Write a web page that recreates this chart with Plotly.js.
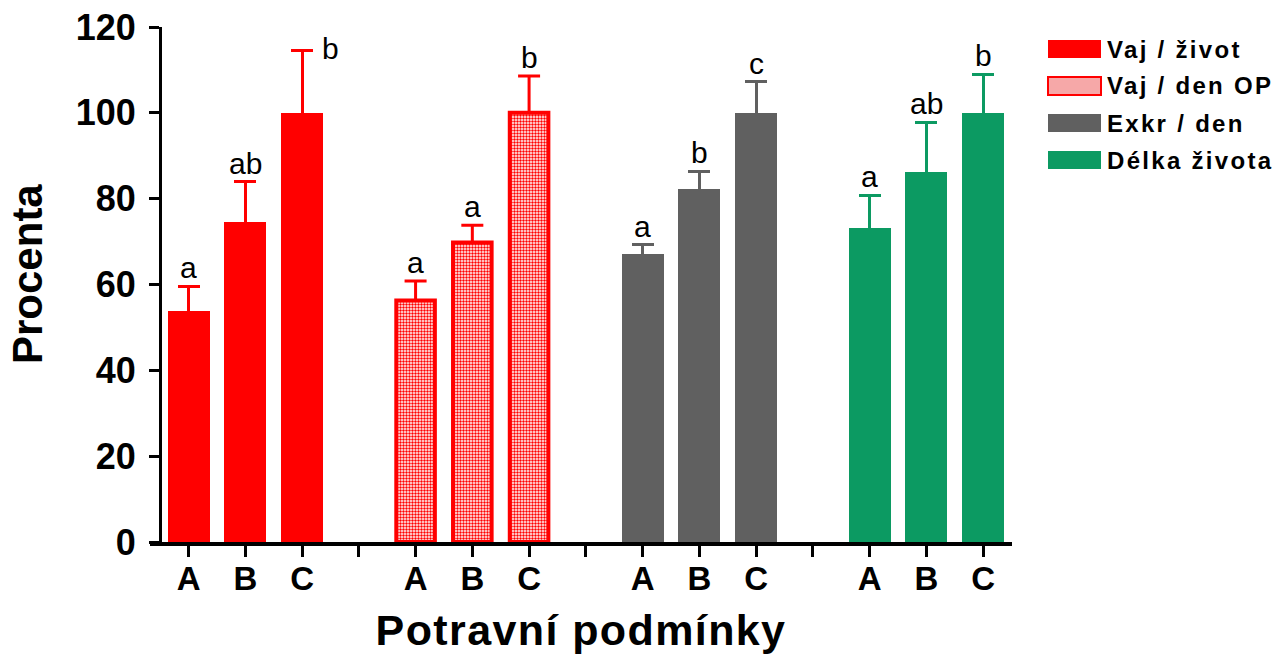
<!DOCTYPE html>
<html>
<head>
<meta charset="utf-8">
<script src="https://cdn.plot.ly/plotly-3.0.1.min.js"></script>
<style>
html,body{margin:0;padding:0;background:#fff;}
#chart{width:1281px;height:655px;}
</style>
</head>
<body>
<div id="chart"></div>
<script>
// ---- data ----
const categories = ['A', 'B', 'C'];
const seriesNames = ['Vaj / život', 'Vaj / den OP', 'Exkr / den', 'Délka života'];
const vajZivot      = [53.9, 74.6, 100];
const vajZivotErr   = [5.7, 9.3, 14.6];
const vajDenOP      = [56.3, 69.8, 100];
const vajDenOPErr   = [4.5, 4.0, 8.6];
const exkrDen       = [67.2, 82.3, 100];
const exkrDenErr    = [2.1, 4.1, 7.2];
const delkaZivota   = [73.2, 86.3, 100];
const delkaZivotaErr= [7.6, 11.5, 9.0];
const lettersVajZivot    = ['a', 'ab', 'b'];
const lettersVajDenOP    = ['a', 'a', 'b'];
const lettersExkrDen     = ['a', 'b', 'c'];
const lettersDelkaZivota = ['a', 'ab', 'b'];
const errMinus = [0, 0, 0];
const xTitle = 'Potravní podmínky';
const yTitle = 'Procenta';

// ---- styling ----
const FONT = "Arial, 'Liberation Sans', sans-serif";
const colors = ['#FF0000', '#FF0000', '#606060', '#0C9A62'];
const values = [vajZivot, vajDenOP, exkrDen, delkaZivota];
const errors = [vajZivotErr, vajDenOPErr, exkrDenErr, delkaZivotaErr];
const letters = [lettersVajZivot, lettersVajDenOP, lettersExkrDen, lettersDelkaZivota];
const slotsPerGroup = categories.length + 1;

const traces = [];
const annotations = [];
const shapes = [];
const tickvals = [];
const ticktext = [];

values.forEach((vals, s) => {
  const xs = categories.map((c, i) => s * slotsPerGroup + i);
  const patterned = (s === 1);
  traces.push({
    type: 'bar',
    name: seriesNames[s],
    x: xs,
    y: vals,
    width: patterned ? 0.68 : 0.74,
    marker: patterned ? {
      color: '#FF0000',
      pattern: {shape: '.', fillmode: 'replace', fgcolor: '#FF0000', bgcolor: '#FFFFFF', size: 3, solidity: 0.5},
      line: {color: '#FF0000', width: 4}
    } : {color: colors[s], line: {width: 0}},
    error_y: {
      type: 'data', symmetric: false, array: errors[s], arrayminus: errMinus,
      color: colors[s], thickness: 3, width: 11
    },
    showlegend: false,
    hoverinfo: 'skip'
  });
  xs.forEach((x, i) => {
    const top = vals[i] + errors[s][i];
    const side = (s === 0 && i === 2);
    annotations.push({
      x: x, y: top, xref: 'x', yref: 'y',
      text: letters[s][i], showarrow: false,
      font: {family: FONT, size: 30, color: '#000'},
      xanchor: side ? 'left' : 'center',
      yanchor: side ? 'middle' : 'bottom',
      xshift: side ? 18 : 0,
      yshift: side ? 2 : 0
    });
  });
});

for (let s = 0; s < values.length; s++) {
  categories.forEach((c, i) => { tickvals.push(s * slotsPerGroup + i); ticktext.push(c); });
  if (s < values.length - 1) { tickvals.push(s * slotsPerGroup + categories.length); ticktext.push(''); }
}

// custom legend (paper coords)
const plotTop = 27, plotBottom = 542, plotLeft = 150, plotW = 862;
const px2x = p => (p - plotLeft) / plotW;
const py2y = p => (plotBottom - p) / (plotBottom - plotTop);
seriesNames.forEach((n, s) => {
  const cy = 49 + s * 37;
  const patterned = (s === 1);
  shapes.push({
    type: 'rect', xref: 'paper', yref: 'paper',
    x0: px2x(1048), x1: px2x(1101), y0: py2y(cy + 9), y1: py2y(cy - 9),
    fillcolor: patterned ? '#F6A8A8' : colors[s],
    line: {color: colors[s], width: patterned ? 2 : 0}
  });
  annotations.push({
    xref: 'paper', yref: 'paper', x: px2x(1105), y: py2y(cy),
    xanchor: 'left', yanchor: 'middle', align: 'left', showarrow: false,
    text: '<b>' + n + '</b>',
    font: {family: FONT, size: 24, color: '#000'}
  });
});

// y title as rotated annotation
annotations.push({
  xref: 'paper', yref: 'paper', x: px2x(27), y: py2y(274),
  xanchor: 'center', yanchor: 'middle', showarrow: false, textangle: -90,
  text: '<b>' + yTitle + '</b>',
  font: {family: FONT, size: 42, color: '#000'}
});

const layout = {
  width: 1281, height: 655,
  margin: {l: 150, r: 269, t: 27, b: 113, pad: 0},
  paper_bgcolor: '#fff', plot_bgcolor: '#fff',
  bargap: 0,
  xaxis: {
    range: [-0.68, 14.51],
    tickvals: tickvals, ticktext: ticktext,
    ticks: 'outside', ticklen: 11, tickwidth: 3, tickcolor: '#000',
    showline: true, linewidth: 4, linecolor: '#000',
    showgrid: false, zeroline: false,
    tickfont: {family: FONT, size: 33, color: '#000', weight: 'bold'},
    ticklabelstandoff: -7,
    title: {text: '<b>' + xTitle + '</b>', font: {family: FONT, size: 43, color: '#000'}, standoff: 20},
    automargin: false, fixedrange: true
  },
  yaxis: {
    range: [0, 120], dtick: 20, tick0: 0,
    anchor: 'free', position: 10 / 862,
    ticks: 'outside', ticklen: 10, tickwidth: 3, tickcolor: '#000',
    showline: true, linewidth: 3, linecolor: '#000',
    showgrid: false, zeroline: false,
    tickfont: {family: FONT, size: 36, color: '#000', weight: 'bold'},
    ticklabelstandoff: 6,
    automargin: false, fixedrange: true
  },
  showlegend: false,
  annotations: annotations,
  shapes: shapes
};

Plotly.newPlot('chart', traces, layout, {displayModeBar: false, staticPlot: true}).then(gd => {
  // remove the lower "shoe" of one-sided error bars
  gd.querySelectorAll('.errorbar path').forEach(p => {
    const d = p.getAttribute('d');
    if (d) p.setAttribute('d', d.replace(/m-[\d.]+,0h[\d.]+\s*$/, ''));
  });
  // letter spacing like the original typesetting
  gd.querySelectorAll('.annotation-text').forEach(t => {
    if (seriesNames.includes(t.textContent)) t.style.letterSpacing = '2.3px';
  });
  const xt = gd.querySelector('.xtitle');
  if (xt) xt.style.letterSpacing = '1.4px';
});
</script>
</body>
</html>
